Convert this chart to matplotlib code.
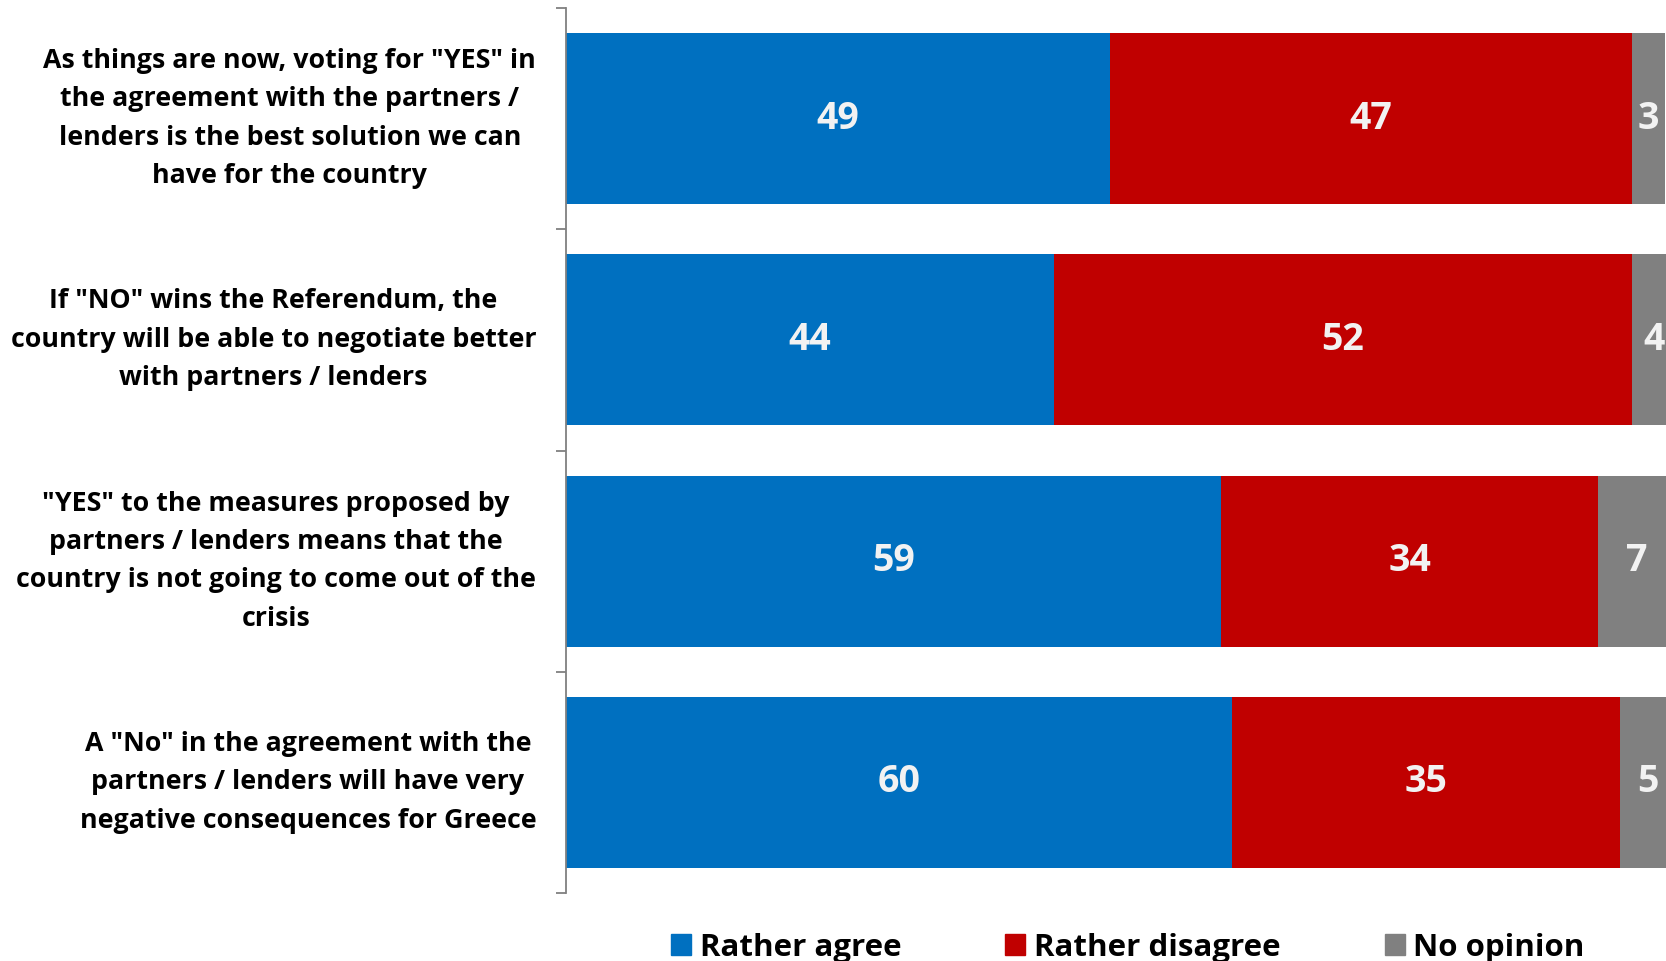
import numpy as np
import matplotlib
matplotlib.use('Agg')
import matplotlib.pyplot as plt
from matplotlib.patches import Patch

# 数据
questions = ['As things are now, voting for "YES" in\nthe agreement with the partners /\nlenders is the best solution we can\nhave for the country',
             'If "NO" wins the Referendum, the\ncountry will be able to negotiate better\nwith partners / lenders',
             '"YES" to the measures proposed by\npartners / lenders means that the\ncountry is not going to come out of the\ncrisis',
             'A "No" in the agreement with the\npartners / lenders will have very\nnegative consequences for Greece']
agree = [49, 44, 59, 60]
disagree = [47, 52, 34, 35]
no_opinion = [3, 4, 7, 5]
series_names = ['Rather agree', 'Rather disagree', 'No opinion']
colors = ['#0070C0', '#C00000', '#808080']

plt.rcParams['font.family'] = ['Open Sans', 'DejaVu Sans']
plt.rcParams['font.weight'] = 'bold'

fig = plt.figure(figsize=(16.66, 9.61), dpi=100)
ax = fig.add_axes([566/1666, 1-893/961, 1-566/1666, (893-8)/961])

y = np.arange(len(questions))
left = np.zeros(len(questions))
for vals, name, c in zip([agree, disagree, no_opinion], series_names, colors):
    vals = np.array(vals)
    ax.barh(y, vals, left=left, height=0.773, color=c, label=name)
    for yi, l, v in zip(y, left, vals):
        ax.text(l+v/2, yi, str(v), ha='center', va='center', color='#F2F2F2',
                fontsize=27, fontweight='bold', clip_on=False)
    left = left+vals

ax.set_xlim(0, 99.1)
ax.set_ylim(3.5, -0.5)
ax.set_xticks([])
ax.set_yticks(y)
ax.set_yticklabels(questions, fontsize=19.3, fontweight='bold', linespacing=1.62)
for lab in ax.get_yticklabels():
    lab.set_multialignment('center')
    lab.set_va('center')
ax.set_yticks(np.arange(-0.5, 4, 1), minor=True)
ax.tick_params(axis='y', which='major', length=0, pad=21.5)
ax.tick_params(axis='y', which='minor', length=7.5, color='#808080', width=1.3)
for s in ['top', 'right', 'bottom']:
    ax.spines[s].set_visible(False)
ax.spines['left'].set_color('#808080')
ax.spines['left'].set_linewidth(1.3)

handles = [Patch(color=c) for c in colors]
fig.legend(handles, series_names, loc='center', bbox_to_anchor=(0.677, 0.014), ncol=3,
           frameon=False, handlelength=0.64, handleheight=0.64,
           handletextpad=0.27, columnspacing=3.33, prop={'weight': 'bold', 'size': 22.5})

plt.savefig('out.png', dpi=100)
